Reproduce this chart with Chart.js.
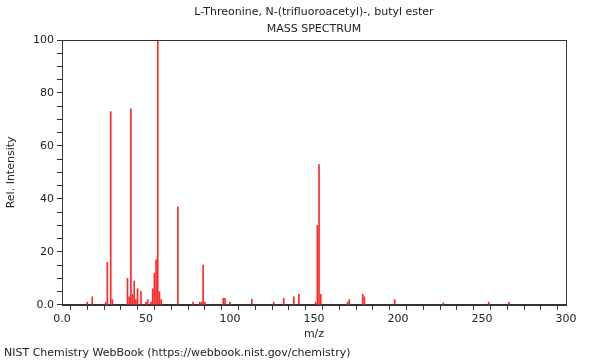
<!DOCTYPE html>
<html>
<head>
<meta charset="utf-8">
<script src="https://cdn.jsdelivr.net/npm/chart.js@4"></script>
<style>
  html, body { margin: 0; padding: 0; background: #fff; }
  #wrap { width: 600px; height: 360px; }
</style>
</head>
<body>
<div id="wrap"><canvas id="msChart"></canvas></div>
<script>
const chartTitle = ["L-Threonine, N-(trifluoroacetyl)-, butyl ester", "MASS SPECTRUM"];
const footerText = "NIST Chemistry WebBook (https://webbook.nist.gov/chemistry)";

// m/z of each peak and its relative intensity
const mzValues = [15, 18, 26, 27, 29, 30, 39, 40, 41, 42, 43, 44, 45, 47, 50, 51, 53, 54, 55, 56,
  57, 58, 59, 69, 78, 82, 83, 84, 85, 96, 97, 100, 113, 126, 132, 138, 141, 151, 152, 153,
  154, 170, 171, 179, 180, 198, 227, 254, 266];
const intensities = [1, 3, 1, 16, 73, 2, 10, 3, 74, 4, 9, 2, 6, 5, 1, 2, 1, 6, 12, 17,
  100, 5, 2, 37, 1, 1, 1, 15, 1, 2.4, 2.4, 1, 2.2, 1, 2.4, 3, 4, 1, 30, 53,
  4, 1, 2, 4, 3, 2, 0.7, 1, 1];

const xMin = 0, xMax = 300, xStep = 10, xLabelEvery = 50;
const yMin = 0, yMax = 100, yStep = 5, yLabelEvery = 20;

const peaks = mzValues.map((m, i) => ({ x: m, y: intensities[i] }));

const fontFamily = "'DejaVu Sans', sans-serif";
const axisColor = "#333";

// box round the plot, and title centred over the plot instead of the page
const frame = {
  id: "frame",
  afterLayout(chart) {
    if (chart.titleBlock) {
      chart.titleBlock.left = chart.chartArea.left;
      chart.titleBlock.right = chart.chartArea.right;
    }
  },
  afterDraw(chart) {
    const a = chart.chartArea;
    const ctx = chart.ctx;
    ctx.save();
    ctx.strokeStyle = axisColor;
    ctx.lineWidth = 1;
    ctx.strokeRect(Math.round(a.left) + 0.5, Math.round(a.top) + 0.5,
      Math.round(a.right - a.left), Math.round(a.bottom - a.top));
    ctx.restore();
  }
};

function tickText(v, every) {
  if (v % every !== 0) return "";
  return v === 0 ? "0.0" : String(v);
}

Chart.defaults.font.family = fontFamily;
Chart.defaults.font.size = 11;
Chart.defaults.color = "#222";

new Chart("msChart", {
  type: "bar",
  data: {
    datasets: [{
      data: peaks,
      backgroundColor: "rgb(255,40,40)",
      borderWidth: 0,
      barThickness: 1
    }]
  },
  plugins: [frame],
  options: {
    responsive: true,
    maintainAspectRatio: false,
    animation: false,
    layout: { padding: { left: 4, right: 34, top: 0, bottom: 0 } },
    plugins: {
      legend: { display: false },
      tooltip: { enabled: false },
      title: {
        display: true,
        text: chartTitle,
        color: "#222",
        font: { size: 11, weight: "normal", lineHeight: 17 / 11 },
        padding: { top: 4, bottom: 2 }
      },
      subtitle: {
        display: true,
        text: footerText,
        position: "bottom",
        align: "start",
        color: "#222",
        font: { size: 11, weight: "normal" },
        padding: { top: 4, bottom: 0 }
      }
    },
    scales: {
      x: {
        type: "linear",
        min: xMin,
        max: xMax,
        offset: false,
        grid: { drawOnChartArea: false, tickLength: 5, color: axisColor },
        border: { display: true, color: axisColor },
        ticks: {
          stepSize: xStep,
          autoSkip: false,
          maxRotation: 0,
          padding: 3,
          callback: v => tickText(v, xLabelEvery)
        },
        title: { display: true, text: "m/z", padding: { top: 0, bottom: 2 } },
        afterFit(scale) { scale.height = 38; }
      },
      y: {
        min: yMin,
        max: yMax,
        grid: { drawOnChartArea: false, tickLength: 5, color: axisColor },
        border: { display: true, color: axisColor },
        ticks: {
          stepSize: yStep,
          autoSkip: false,
          padding: 3,
          callback: v => tickText(v, yLabelEvery)
        },
        title: { display: true, text: "Rel. Intensity", padding: { top: 1, bottom: 0 } },
        afterFit(scale) { scale.width = 58; }
      }
    }
  }
});
</script>
</body>
</html>
